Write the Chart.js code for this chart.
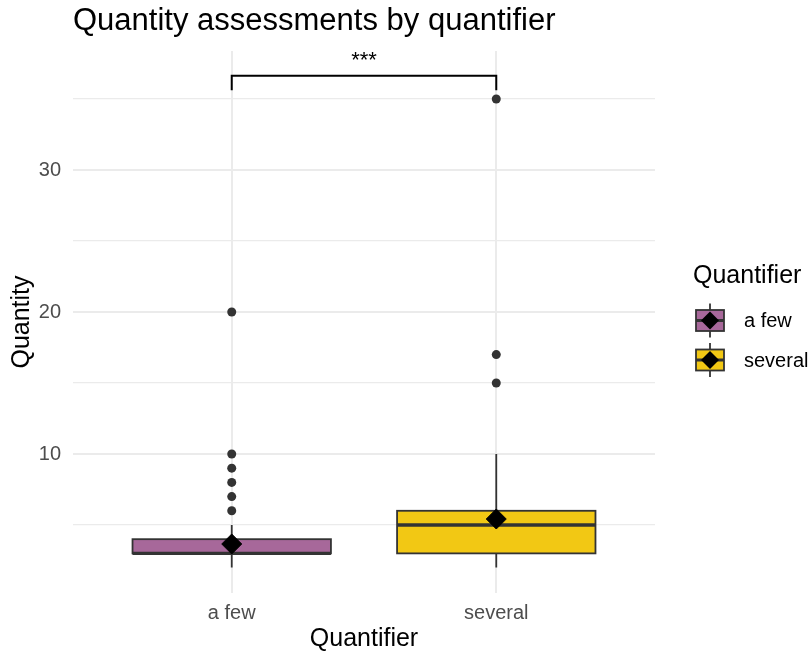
<!DOCTYPE html>
<html>
<head>
<meta charset="utf-8">
<script src="https://cdn.jsdelivr.net/npm/chart.js@4"></script>
<style>
  html, body { margin: 0; padding: 0; background: #ffffff; }
  #wrap { width: 812px; height: 655px; position: relative; }
</style>
</head>
<body>
<div id="wrap"><canvas id="chart"></canvas></div>
<script>
// Groups on the x axis
const categories = ['a few', 'several'];

// Five-number summaries per group
const whiskerLow  = [2, 2];
const boxLow      = [3, 3];
const medians     = [3, 5];
const boxHigh     = [4, 6];
const whiskerHigh = [5, 10];

// Group means
const means = [3.66, 5.42];

// Points beyond the whiskers
const outliersFew     = [6, 7, 8, 9, 10, 20];
const outliersSeveral = [15, 17, 35];

// Axis ticks
const yMajorTicks = [10, 20, 30];
const yMinorTicks = [5, 15, 25, 35];

// Significance bracket between the two groups
const bracketGroups = ['a few', 'several'];
const bracketTop = 36.64;
const bracketTip = 35.62;
const bracketLabel = '***';

const fills = ['#A7689A', '#F2C814'];
const outline = '#333333';
const FONT = "'Liberation Sans', Arial, Helvetica, sans-serif";

const boxWidth = 0.75;

const outlierPoints = []
  .concat(outliersFew.map(v => ({ x: 1, y: v })))
  .concat(outliersSeveral.map(v => ({ x: 2, y: v })));
const meanPoints = means.map((m, i) => ({ x: i + 1, y: m }));

// Boxes, whiskers and the significance bracket
const boxPlugin = {
  id: 'boxes',
  beforeDatasetsDraw(chart) {
    const { ctx, scales: { x, y } } = chart;
    ctx.save();
    categories.forEach((c, i) => {
      const cx = x.getPixelForValue(i + 1);
      const left = x.getPixelForValue(i + 1 - boxWidth / 2);
      const right = x.getPixelForValue(i + 1 + boxWidth / 2);
      const pLo = y.getPixelForValue(boxLow[i]);
      const pHi = y.getPixelForValue(boxHigh[i]);
      // whiskers
      ctx.strokeStyle = outline;
      ctx.lineWidth = 1.8;
      ctx.beginPath();
      ctx.moveTo(cx, y.getPixelForValue(whiskerHigh[i]));
      ctx.lineTo(cx, pHi);
      ctx.moveTo(cx, pLo);
      ctx.lineTo(cx, y.getPixelForValue(whiskerLow[i]));
      ctx.stroke();
      // box
      ctx.fillStyle = fills[i];
      ctx.fillRect(left, pHi, right - left, pLo - pHi);
      ctx.lineWidth = 1.8;
      ctx.strokeRect(left, pHi, right - left, pLo - pHi);
      // median
      const pMed = y.getPixelForValue(medians[i]);
      ctx.lineWidth = 3.4;
      ctx.beginPath();
      ctx.moveTo(left, pMed);
      ctx.lineTo(right, pMed);
      ctx.stroke();
    });

    // bracket
    const bx0 = x.getPixelForValue(categories.indexOf(bracketGroups[0]) + 1);
    const bx1 = x.getPixelForValue(categories.indexOf(bracketGroups[1]) + 1);
    const byTop = y.getPixelForValue(bracketTop);
    const byTip = y.getPixelForValue(bracketTip);
    ctx.strokeStyle = '#000000';
    ctx.lineWidth = 2;
    ctx.beginPath();
    ctx.moveTo(bx0, byTip);
    ctx.lineTo(bx0, byTop);
    ctx.lineTo(bx1, byTop);
    ctx.lineTo(bx1, byTip);
    ctx.stroke();
    ctx.fillStyle = '#000000';
    ctx.font = '22px ' + FONT;
    ctx.textAlign = 'center';
    ctx.textBaseline = 'alphabetic';
    ctx.fillText(bracketLabel, (bx0 + bx1) / 2, byTop - 9);
    ctx.restore();
  }
};

// Legend with boxplot keys
const legendPlugin = {
  id: 'boxLegend',
  afterDraw(chart) {
    const { ctx } = chart;
    const lx = 693;
    ctx.save();
    ctx.fillStyle = '#000000';
    ctx.font = '25px ' + FONT;
    ctx.textAlign = 'left';
    ctx.textBaseline = 'middle';
    ctx.fillText('Quantifier', lx, 276);
    const rows = [320.5, 360];
    categories.forEach((c, i) => {
      const cy = rows[i];
      const kx = 696, kw = 28, kh = 21;
      const cx = kx + kw / 2;
      ctx.strokeStyle = outline;
      ctx.lineWidth = 1.8;
      ctx.beginPath();
      ctx.moveTo(cx, cy - 17);
      ctx.lineTo(cx, cy + 17);
      ctx.stroke();
      ctx.fillStyle = fills[i];
      ctx.fillRect(kx, cy - kh / 2, kw, kh);
      ctx.strokeRect(kx, cy - kh / 2, kw, kh);
      ctx.lineWidth = 3;
      ctx.beginPath();
      ctx.moveTo(kx, cy);
      ctx.lineTo(kx + kw, cy);
      ctx.stroke();
      ctx.fillStyle = '#000000';
      ctx.beginPath();
      ctx.moveTo(cx - 9, cy);
      ctx.lineTo(cx, cy - 9);
      ctx.lineTo(cx + 9, cy);
      ctx.lineTo(cx, cy + 9);
      ctx.closePath();
      ctx.fill();
      ctx.fillStyle = '#000000';
      ctx.font = '20px ' + FONT;
      ctx.fillText(c, 744, cy + 1);
    });
    ctx.restore();
  }
};

new Chart(document.getElementById('chart'), {
  type: 'scatter',
  data: {
    datasets: [
      {
        label: 'outliers',
        data: outlierPoints,
        pointRadius: 4.5,
        pointBackgroundColor: '#333333',
        pointBorderColor: '#333333',
        pointBorderWidth: 0
      },
      {
        label: 'mean',
        data: meanPoints,
        pointStyle: 'rectRot',
        pointRadius: 10,
        pointBackgroundColor: '#000000',
        pointBorderColor: '#000000',
        pointBorderWidth: 1
      }
    ]
  },
  plugins: [boxPlugin, legendPlugin],
  options: {
    responsive: true,
    maintainAspectRatio: false,
    animation: false,
    events: [],
    layout: { padding: { left: 0, right: 157, top: 0, bottom: 0 } },
    plugins: {
      legend: { display: false },
      tooltip: { enabled: false },
      title: {
        display: true,
        text: 'Quantity assessments by quantifier',
        align: 'start',
        fullSize: false,
        color: '#000000',
        font: { family: FONT, size: 31, weight: 'normal', lineHeight: 1.2 },
        padding: { top: 3, bottom: 10.8 }
      }
    },
    scales: {
      x: {
        type: 'linear',
        min: 0.4,
        max: 2.6,
        afterBuildTicks(scale) {
          scale.ticks = categories.map((c, i) => ({ value: i + 1 }));
        },
        afterFit(scale) { scale.height = 62; },
        ticks: {
          autoSkip: false,
          maxRotation: 0,
          padding: 8,
          color: '#4D4D4D',
          font: { family: FONT, size: 20 },
          callback: (v) => categories[v - 1]
        },
        grid: { color: '#EBEBEB', lineWidth: 2, drawTicks: false },
        border: { display: false },
        title: {
          display: true,
          text: 'Quantifier',
          color: '#000000',
          font: { family: FONT, size: 25 },
          padding: { top: 0, bottom: 1 }
        }
      },
      y: {
        type: 'linear',
        min: 0.21,
        max: 38.38,
        afterBuildTicks(scale) {
          scale.ticks = yMinorTicks.concat(yMajorTicks)
            .sort((a, b) => a - b)
            .map(v => ({ value: v }));
        },
        afterFit(scale) { scale.width = 73; },
        ticks: {
          autoSkip: false,
          padding: 12,
          color: '#4D4D4D',
          font: { family: FONT, size: 20 },
          callback: (v) => yMajorTicks.includes(v) ? String(v) : ''
        },
        grid: {
          color: '#EBEBEB',
          lineWidth: (ctx) => (ctx.tick && yMajorTicks.includes(ctx.tick.value)) ? 2 : 1.2,
          drawTicks: false
        },
        border: { display: false },
        title: {
          display: true,
          text: 'Quantity',
          color: '#000000',
          font: { family: FONT, size: 25 },
          padding: { top: 7, bottom: 0 }
        }
      }
    }
  }
});
</script>
</body>
</html>
